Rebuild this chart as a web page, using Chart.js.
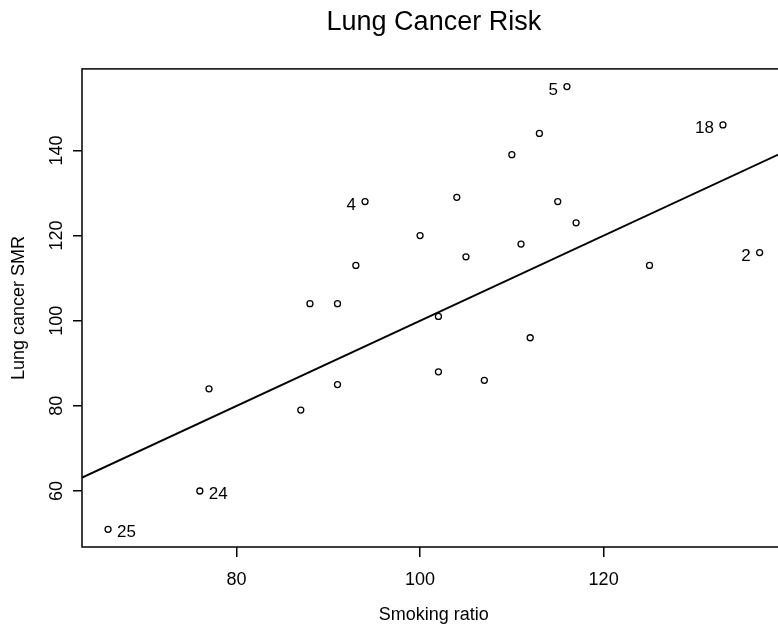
<!DOCTYPE html>
<html>
<head>
<meta charset="utf-8">
<title>Lung Cancer Risk</title>
<script src="https://cdn.jsdelivr.net/npm/chart.js@4.4.1/dist/chart.umd.min.js"></script>
<style>
    html, body { margin: 0; padding: 0; background: #fff; overflow: hidden; }
    #wrap { width: 778px; height: 628px; overflow: hidden; }
</style>
</head>
<body>
<div id="wrap"><canvas id="chart" width="790" height="628"></canvas></div>
<script>
    // occupational groups 1..25
    var smoking = [77, 137, 117, 94, 116, 102, 111, 93, 88, 102, 91, 104, 107,
                   112, 113, 110, 125, 133, 115, 105, 87, 91, 100, 76, 66];
    var mortality = [84, 116, 123, 128, 155, 101, 118, 113, 104, 88, 104, 129, 86,
                     96, 144, 139, 113, 146, 128, 115, 79, 85, 120, 60, 51];

    // reference line y = x
    var refX = [60, 140];
    var refY = [60, 140];

    var xLimits = [63.16, 139.84];
    var yLimits = [46.84, 159.16];
    var xTicks = [80, 100, 120];
    var yTicks = [60, 80, 100, 120, 140];

    // groups labelled on the left / right of their point
    var labelLeft = [2, 4, 5, 18];
    var labelRight = [24, 25];

    var family = '"Liberation Sans", Arial, sans-serif';

    function toPoints(xs, ys) {
        var pts = [];
        for (var i = 0; i < xs.length; i++) {
            pts.push({x: xs[i], y: ys[i]});
        }
        return pts;
    }

    function fixedTicks(values) {
        return function (scale) {
            scale.ticks = values.map(function (v) { return {value: v}; });
        };
    }

    var framePlugin = {
        id: 'frame',
        afterDatasetsDraw: function (chart) {
            var ctx = chart.ctx;
            var a = chart.chartArea;
            ctx.save();
            ctx.strokeStyle = '#000';
            ctx.lineWidth = 1.5;
            ctx.strokeRect(a.left, a.top, a.right - a.left, a.bottom - a.top);

            // point labels
            var meta = chart.getDatasetMeta(0);
            ctx.font = '17px ' + family;
            ctx.fillStyle = '#000';
            ctx.textBaseline = 'middle';
            meta.data.forEach(function (pt, i) {
                var id = i + 1;
                if (labelLeft.indexOf(id) >= 0) {
                    ctx.textAlign = 'right';
                    ctx.fillText(String(id), pt.x - 9, pt.y + 3.5);
                } else if (labelRight.indexOf(id) >= 0) {
                    ctx.textAlign = 'left';
                    ctx.fillText(String(id), pt.x + 9, pt.y + 3.5);
                }
            });
            ctx.restore();
        }
    };

    new Chart(document.getElementById('chart'), {
        type: 'scatter',
        data: {
            datasets: [{
                data: toPoints(smoking, mortality),
                borderColor: '#000',
                backgroundColor: 'rgba(0,0,0,0)',
                pointRadius: 3,
                pointBorderWidth: 1.3,
                pointHoverRadius: 3
            }, {
                type: 'line',
                data: toPoints(refX, refY),
                borderColor: '#000',
                borderWidth: 2,
                pointRadius: 0,
                fill: false
            }]
        },
        options: {
            responsive: false,
            animation: false,
            devicePixelRatio: 1,
            layout: {padding: {left: 0, top: 0, right: 2, bottom: 0}},
            plugins: {
                legend: {display: false},
                tooltip: {enabled: false},
                title: {
                    display: true,
                    text: 'Lung Cancer Risk',
                    fullSize: false,
                    color: '#000',
                    font: {size: 27, family: family, weight: 'normal'},
                    padding: {top: 6, bottom: 30.5}
                }
            },
            scales: {
                x: {
                    type: 'linear',
                    min: xLimits[0],
                    max: xLimits[1],
                    afterBuildTicks: fixedTicks(xTicks),
                    afterFit: function (s) { s.height = 81; },
                    ticks: {
                        autoSkip: false,
                        maxRotation: 0,
                        padding: 12,
                        color: '#000',
                        font: {size: 18, family: family}
                    },
                    grid: {drawOnChartArea: false, color: '#000', tickLength: 10, lineWidth: 1.5},
                    border: {display: false},
                    title: {
                        display: true,
                        text: 'Smoking ratio',
                        color: '#000',
                        font: {size: 18, family: family},
                        padding: {top: 0, bottom: 2.4}
                    }
                },
                y: {
                    type: 'linear',
                    min: yLimits[0],
                    max: yLimits[1],
                    afterBuildTicks: fixedTicks(yTicks),
                    afterFit: function (s) { s.width = 82; },
                    ticks: {
                        autoSkip: false,
                        minRotation: 90,
                        maxRotation: 90,
                        crossAlign: 'center',
                        padding: 0.5,
                        color: '#000',
                        font: {size: 18, family: family}
                    },
                    grid: {drawOnChartArea: false, color: '#000', tickLength: 9, lineWidth: 1.5},
                    border: {display: false},
                    title: {
                        display: true,
                        text: 'Lung cancer SMR',
                        color: '#000',
                        font: {size: 18, family: family},
                        padding: {top: 8.2, bottom: 0}
                    }
                }
            }
        },
        plugins: [framePlugin]
    });
</script>
</body>
</html>
